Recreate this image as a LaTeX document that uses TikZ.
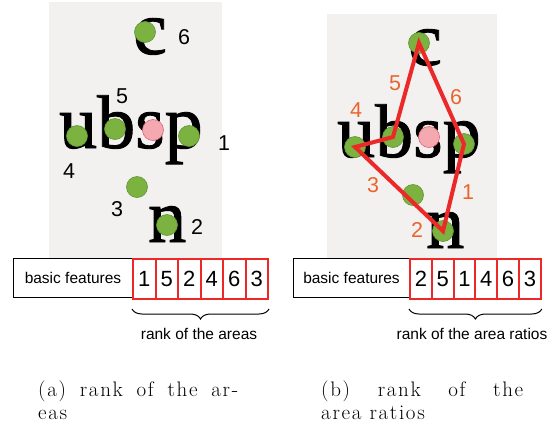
\documentclass[tikz,border=0pt]{standalone}
\usepackage{fontspec}
\newfontfamily\arialfont{Liberation Sans}
\newfontfamily\timesfont[FakeBold=1.2]{Liberation Serif}
\newfontfamily\capfont[LetterSpace=8]{Latin Modern Roman}
\usetikzlibrary{decorations.pathreplacing}
\definecolor{panelgray}{RGB}{242,241,240}
\definecolor{dotgreen}{RGB}{124,178,64}
\definecolor{dotedge}{RGB}{98,148,52}
\definecolor{dotpink}{RGB}{244,168,176}
\definecolor{pinkedge}{RGB}{222,100,116}
\definecolor{cellred}{RGB}{236,40,40}
\definecolor{numorange}{RGB}{234,100,45}
\tikzset{
  gdot/.style={circle,fill=dotgreen,draw=dotedge,line width=0.6pt,minimum size=21pt,inner sep=0pt},
  pdot/.style={circle,fill=dotpink,draw=pinkedge,line width=0.6pt,minimum size=21pt,inner sep=0pt},
  glyph/.style={anchor=base west,inner sep=0pt,font=\timesfont\fontsize{76}{76}\selectfont},
  featbox/.style={draw,line width=1pt,minimum height=39pt,inner sep=0pt,anchor=north west,
    font=\arialfont\fontsize{15.5}{18}\selectfont},
  rankcell/.style={draw=cellred,line width=2pt,minimum height=40pt,inner sep=0pt,anchor=north west,
    font=\arialfont\fontsize{22}{26}\selectfont},
  numlbl/.style={inner sep=0pt,font=\arialfont\fontsize{21.5}{26}\selectfont},
  rankbrace/.style={decorate,decoration={brace,amplitude=10pt},line width=1pt},
  bracelbl/.style={anchor=base,inner sep=0pt,font=\arialfont\fontsize{15.5}{18}\selectfont},
  caption/.style={anchor=base west,inner sep=0pt,font=\capfont\fontsize{21}{23}\selectfont},
  ratioline/.style={cellred,line width=4pt}
}
\newcommand\rankrow[6]{
  \node[featbox,minimum width=#4pt] (#1feat) at (#2,#3) {basic features};
  \foreach \d [count=\i] in {#6}
  {
    \pgfmathsetmacro{\cx}{#2+#4+(\i-1)*#5}
    \node[rankcell,minimum width=#5pt] (#1cell\i) at (\cx,#3) {\d};
  }
  \draw[rankbrace] ([yshift=-9pt]#1cell6.south east) -- ([yshift=-9pt]#1cell1.south west);
}

\begin{document}
\begin{tikzpicture}[x=1pt, y=-1pt]
\useasboundingbox (0,0) rectangle (555,429);

% (a) rank of the areas
\fill[panelgray] (49,2) rectangle (222,258);
\node[glyph] (Ac) at (133,54) {c};
\node[glyph] (Aubsp) at (59,148) {ubsp};
\node[glyph] (An) at (148,242) {n};
\node[gdot] (Adc) at (145,32) {};
\node[gdot] (Adu) at (77,136) {};
\node[gdot] (Adb) at (115,129) {};
\node[pdot] (Ads) at (153,130) {};
\node[gdot] (Adp) at (189,136) {};
\node[gdot] (Adm) at (137,187) {};
\node[gdot] (Adn) at (167,225) {};
\node[numlbl] (An6) at (184,37) {6};
\node[numlbl] (An5) at (122,96) {5};
\node[numlbl] (An1) at (224,143) {1};
\node[numlbl] (An4) at (69,171) {4};
\node[numlbl] (An3) at (117,209) {3};
\node[numlbl] (An2) at (197,227) {2};
\rankrow{A}{13}{258}{119}{22.5}{1,5,2,4,6,3}
\node[bracelbl] (Arank) at (199,339) {rank of the areas};
\node[caption] (Acap1) at (38,396) {\makebox[200pt][s]{(a) rank of the ar-}};
\node[caption] (Acap2) at (38,419) {eas};

% (b) rank of the area ratios
\fill[panelgray] (327,14) rectangle (497,258);
\node[glyph] (Bc) at (408,65) {c};
\node[glyph] (Bubsp) at (337,157) {ubsp};
\node[glyph] (Bn) at (426,248) {n};
\node[gdot] (Bdc) at (419,43) {};
\node[gdot] (Bdu) at (355,147) {};
\node[gdot] (Bdb) at (393,137) {};
\node[pdot] (Bds) at (429,137) {};
\node[gdot] (Bdp) at (464,144) {};
\node[gdot] (Bdm) at (413,195) {};
\node[gdot] (Bdn) at (443,231) {};
\draw[ratioline] (Bdc.center) -- (Bdp.center) -- (Bdn.center) -- (Bdu.center) -- (Bdb.center) -- cycle;
\node[numlbl,numorange] (Bn5) at (395,83) {5};
\node[numlbl,numorange] (Bn6) at (456,97) {6};
\node[numlbl,numorange] (Bn4) at (356,110) {4};
\node[numlbl,numorange] (Bn3) at (373,185) {3};
\node[numlbl,numorange] (Bn1) at (468,192) {1};
\node[numlbl,numorange] (Bn2) at (417,230) {2};
\rankrow{B}{293}{258}{116}{21.8}{2,5,1,4,6,3}
\node[bracelbl] (Brank) at (472,339) {rank of the area ratios};
\node[caption] (Bcap1) at (321,396) {\makebox[202pt][s]{(b) rank of the}};
\node[caption] (Bcap2) at (321,419) {area ratios};
\end{tikzpicture}
\end{document}
